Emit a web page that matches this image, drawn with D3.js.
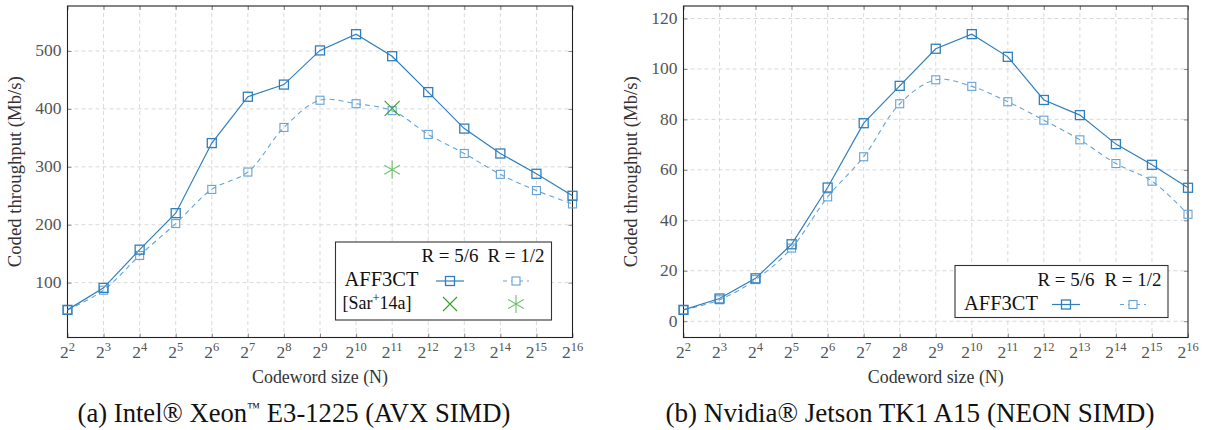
<!DOCTYPE html>
<html><head><meta charset="utf-8">
<script src="https://cdn.jsdelivr.net/npm/d3@7"></script>
<style>
body{margin:0;background:#fff;}
svg{display:block;}
</style></head>
<body>
<svg id="c" width="1209" height="430"></svg>
<script>
// ---- data ----
const exponents = [2,3,4,5,6,7,8,9,10,11,12,13,14,15,16];
const xeonR56 = [53,91,157,220,341,421,442,501,529,491,429,366,323,288,250];
const xeonR12 = [53,87,147,202,261,291,368,415,409,397,356,323,287,259,236];
const sarExp = [11];
const sarR56 = [401];
const sarR12 = [295];
const jetsonR56 = [4.5,9,17,30.5,53,78.5,93.3,108,113.8,104.8,87.7,81.7,70.2,62,52.9];
const jetsonR12 = [4.5,8.5,16.5,29,49.3,65.2,86.2,95.7,93.1,87,79.7,71.9,62.5,55.5,42.4];
const xeonYTicks = [100,200,300,400,500];
const jetsonYTicks = [0,20,40,60,80,100,120];
const yTitle = "Coded throughput (Mb/s)";
const xTitle = "Codeword size (N)";
const legendHeaders = ["R = 5/6","R = 1/2"];

const FONT = "Liberation Serif";
const C56 = "#2f7fbd", C12 = "#64a3d6", G1 = "#33a02c", G2 = "#70c070";
const svg = d3.select("#c");

function squareMarker(g, pts, color, size, sw){
  g.selectAll(null).data(pts).join("rect")
    .attr("x", d=>d[0]-size/2).attr("y", d=>d[1]-size/2)
    .attr("width", size).attr("height", size)
    .attr("fill","none").attr("stroke",color).attr("stroke-width",sw);
}
function crossMarker(g, x, y, r, color){
  g.append("path").attr("d",`M${x-r},${y-r}L${x+r},${y+r}M${x-r},${y+r}L${x+r},${y-r}`)
    .attr("stroke",color).attr("stroke-width",1.1).attr("fill","none");
}
function starMarker(g, x, y, r, color){
  let d="";
  for(let i=0;i<3;i++){
    const a = Math.PI/2 + i*Math.PI/3;
    d += `M${x+r*Math.cos(a)},${y-r*Math.sin(a)}L${x-r*Math.cos(a)},${y+r*Math.sin(a)}`;
  }
  g.append("path").attr("d",d).attr("stroke",color).attr("stroke-width",1.1).attr("fill","none");
}
function txt(g){ return g.append("text").attr("font-family",FONT); }
function fit(t, w){
  const fs = +t.attr("font-size");
  const len = t.node().getComputedTextLength();
  if(len>0) t.attr("font-size", fs*w/len);
  return t;
}

function panel(cfg){
  const {x0,x1,y0,y1,ydom,yticks,s56,s12,caption,capX} = cfg;
  const x = d3.scaleLinear().domain([2,16]).range([x0,x1]);
  const y = d3.scaleLinear().domain(ydom).range([y1,y0]);
  const g = svg.append("g");
  // grid
  const grid = g.append("g").attr("stroke","#d9d9d9").attr("stroke-width",1).attr("stroke-dasharray","4,3");
  exponents.forEach(e=>{ if(e>2&&e<16) grid.append("line").attr("x1",x(e)).attr("x2",x(e)).attr("y1",y0).attr("y2",y1);});
  yticks.forEach(t=>grid.append("line").attr("x1",x0).attr("x2",x1).attr("y1",y(t)).attr("y2",y(t)));
  // axes via d3
  const tl = 4;
  const axB = d3.axisBottom(x).tickValues(exponents).tickSize(-tl).tickFormat("");
  const axT = d3.axisTop(x).tickValues(exponents).tickSize(-tl).tickFormat("");
  const axL = d3.axisLeft(y).tickValues(yticks).tickSize(-tl).tickFormat("");
  const axR = d3.axisRight(y).tickValues(yticks).tickSize(-tl).tickFormat("");
  [[axB,`translate(0,${y1})`],[axT,`translate(0,${y0})`],[axL,`translate(${x0},0)`],[axR,`translate(${x1},0)`]].forEach(([a,t])=>{
    const ag = g.append("g").attr("transform",t).call(a);
    ag.select(".domain").remove();
    ag.selectAll("line").attr("stroke","#8a8a8a");
  });
  // frame
  g.append("rect").attr("x",x0).attr("y",y0).attr("width",x1-x0).attr("height",y1-y0)
    .attr("fill","none").attr("stroke","#222").attr("stroke-width",1.1);
  // tick labels
  const lab = g.append("g").attr("fill","#555").attr("font-size",17.5);
  exponents.forEach(e=>{
    const t = txt(lab).attr("x",x(e)).attr("y",y1+20).attr("text-anchor","middle");
    t.append("tspan").text("2");
    t.append("tspan").attr("dy",-7).attr("font-size",12.5).text(e);
  });
  yticks.forEach(v=>{
    txt(lab).attr("x",x0-6).attr("y",y(v)+5.5).attr("text-anchor","end").attr("font-size",17.5).text(v);
  });
  // titles
  fit(txt(g).attr("x",(x0+x1)/2).attr("y",y1+45).attr("text-anchor","middle")
    .attr("font-size",16).attr("fill","#333").text(xTitle), 136);
  fit(txt(g).attr("transform",`translate(${x0-46.5},${(y0+y1)/2}) rotate(-90)`)
    .attr("text-anchor","middle").attr("font-size",16).attr("fill","#333").text(yTitle), 191);
  // lines
  const pts56 = exponents.map((e,i)=>[x(e),y(s56[i])]);
  const pts12 = exponents.map((e,i)=>[x(e),y(s12[i])]);
  const clip = "clip"+Math.round(x0);
  svg.append("clipPath").attr("id",clip).append("rect").attr("x",x0-6).attr("y",y0).attr("width",x1-x0+12).attr("height",y1-y0);
  const pl = g.append("g").attr("clip-path",`url(#${clip})`);
  pl.append("path").attr("d",d3.line().curve(d3.curveCatmullRom.alpha(0.5))(pts12))
    .attr("fill","none").attr("stroke",C12).attr("stroke-width",1.1).attr("stroke-dasharray","5,4");
  pl.append("path").attr("d",d3.line()(pts56))
    .attr("fill","none").attr("stroke",C56).attr("stroke-width",1.2);
  squareMarker(g, pts12, C12, 8, 1.1);
  squareMarker(g, pts56, C56, 9, 1.3);
  if(cfg.sar){
    crossMarker(g, x(sarExp[0]), y(sarR56[0]), 7.5, G1);
    starMarker(g, x(sarExp[0]), y(sarR12[0]), 9, G2);
  }
  // legend
  const L = cfg.leg;
  const lg = g.append("g");
  lg.append("rect").attr("x",L.x).attr("y",L.y).attr("width",L.w).attr("height",L.h)
    .attr("fill","#fff").attr("stroke","#333").attr("stroke-width",1.1);
  fit(txt(lg).attr("x",L.c1).attr("y",L.y+20).attr("text-anchor","middle").attr("font-size",17).attr("fill","#111").text(legendHeaders[0]),57);
  fit(txt(lg).attr("x",L.c2).attr("y",L.y+20).attr("text-anchor","middle").attr("font-size",17).attr("fill","#111").text(legendHeaders[1]),57);
  const r1 = L.y+44;
  fit(txt(lg).attr("x",L.x+9).attr("y",r1).attr("font-size",17).attr("fill","#111").text("AFF3CT"),74);
  lg.append("line").attr("x1",L.c1-14).attr("x2",L.c1+14).attr("y1",r1-5).attr("y2",r1-5).attr("stroke",C56).attr("stroke-width",1.2);
  lg.append("rect").attr("x",L.c1-4.5).attr("y",r1-9.5).attr("width",9).attr("height",9).attr("fill","none").attr("stroke",C56).attr("stroke-width",1.3);
  lg.append("line").attr("x1",L.c2-13).attr("x2",L.c2+13).attr("y1",r1-5).attr("y2",r1-5).attr("stroke",C12).attr("stroke-width",1.1).attr("stroke-dasharray","4,4");
  lg.append("rect").attr("x",L.c2-4).attr("y",r1-9).attr("width",8).attr("height",8).attr("fill","#fff").attr("stroke",C12).attr("stroke-width",1.1);
  if(cfg.sar){
    const r2 = r1+23;
    const t = txt(lg).attr("x",L.x+7).attr("y",r2).attr("font-size",18).attr("fill","#111");
    t.append("tspan").text("[Sar");
    t.append("tspan").attr("dy",-7).attr("font-size",12.5).text("+");
    t.append("tspan").attr("dy",7).text("14a]");
    fit(t, 69);
    crossMarker(lg, L.c1, r2-5, 7, G1);
    starMarker(lg, L.c2, r2-5, 9, G2);
  }
  // caption
  const cap = txt(svg).attr("x",capX).attr("y",422).attr("text-anchor","middle").attr("font-size",24).attr("fill","#111");
  caption(cap);
  fit(cap, cfg.capW);
  cap.selectAll("tspan.sup").attr("font-size", +cap.attr("font-size")*0.5);
}

panel({x0:67.5,x1:572.5,y0:6,y1:337.5,ydom:[5.3,577.7],yticks:xeonYTicks,s56:xeonR56,s12:xeonR12,sar:true,
  leg:{x:335.5,y:242,w:216,h:78,c1:450,c2:516},capX:294,capW:433,
  caption:t=>{t.append("tspan").text("(a) Intel");t.append("tspan").text("®");t.append("tspan").text(" Xeon");
    t.append("tspan").attr("class","sup").attr("dy",-10).attr("font-size",12).text("™");t.append("tspan").attr("dy",10).text(" E3-1225 (AVX SIMD)");}});
panel({x0:683.5,x1:1188,y0:6,y1:337.5,ydom:[-6.45,124.95],yticks:jetsonYTicks,s56:jetsonR56,s12:jetsonR12,sar:false,
  leg:{x:955,y:265.5,w:213,h:52,c1:1066,c2:1133},capX:910,capW:489,
  caption:t=>{t.append("tspan").text("(b) Nvidia");t.append("tspan").text("®");t.append("tspan").text(" Jetson TK1 A15 (NEON SIMD)");}});
</script>
</body></html>
